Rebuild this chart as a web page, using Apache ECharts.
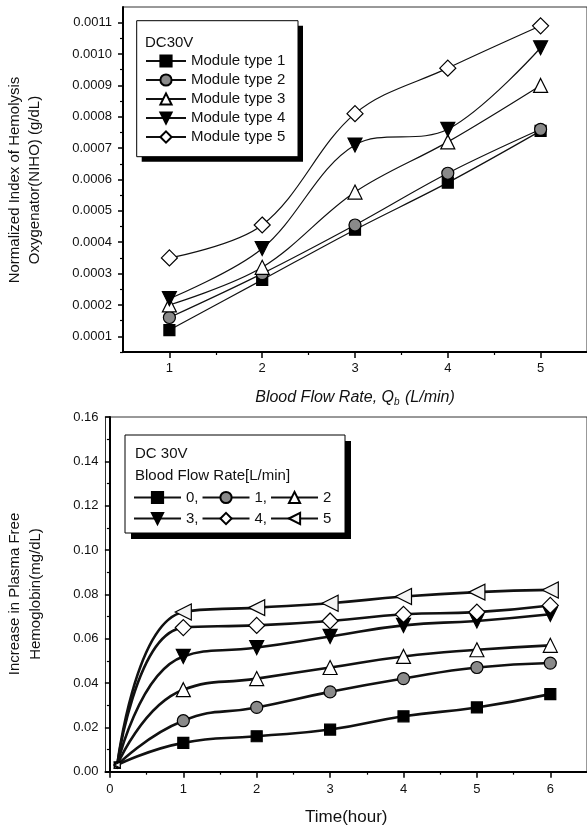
<!DOCTYPE html>
<html>
<head>
<meta charset="utf-8">
<script src="https://cdn.jsdelivr.net/npm/echarts@6/dist/echarts.min.js"></script>
<style>html,body{margin:0;padding:0;background:#fff;}#c{width:587px;height:829px;}</style>
</head>
<body>
<div id="c"></div>
<script>
// ---- Top chart data ----
const flowRates = [1, 2, 3, 4, 5];
const moduleNames = ['Module type 1', 'Module type 2', 'Module type 3', 'Module type 4', 'Module type 5'];
const mod1 = [0.00012, 0.00028, 0.00044, 0.00059, 0.000755];
const mod2 = [0.00016, 0.00030, 0.000455, 0.00062, 0.00076];
const mod3 = [0.00020, 0.00032, 0.00056, 0.00072, 0.00090];
const mod4 = [0.00022, 0.00038, 0.00071, 0.00076, 0.00102];
const mod5 = [0.00035, 0.000455, 0.00081, 0.000955, 0.00109];
const topXTicks = [1, 2, 3, 4, 5];
const topXMinor = [1.5, 2.5, 3.5, 4.5];
const topYTicks = [0.0001, 0.0002, 0.0003, 0.0004, 0.0005, 0.0006, 0.0007, 0.0008, 0.0009, 0.0010, 0.0011];
const topYMinor = [0.00005, 0.00015, 0.00025, 0.00035, 0.00045, 0.00055, 0.00065, 0.00075, 0.00085, 0.00095, 0.00105];

// ---- Bottom chart data ----
const hours = [0.1, 1, 2, 3, 4, 5, 6];
const rateNames = ['0,', '1,', '2', '3,', '4,', '5'];
const rate0 = [0.003, 0.013, 0.016, 0.019, 0.025, 0.029, 0.035];
const rate1 = [0.003, 0.023, 0.029, 0.036, 0.042, 0.047, 0.049];
const rate2 = [0.003, 0.037, 0.042, 0.047, 0.052, 0.055, 0.057];
const rate3 = [0.003, 0.052, 0.056, 0.061, 0.066, 0.068, 0.071];
const rate4 = [0.003, 0.065, 0.066, 0.068, 0.071, 0.072, 0.075];
const rate5 = [0.003, 0.072, 0.074, 0.076, 0.079, 0.081, 0.082];
const botXTicks = [0, 1, 2, 3, 4, 5, 6];
const botXMinor = [0.5, 1.5, 2.5, 3.5, 4.5, 5.5];

const FONT = 'Liberation Sans, Arial, sans-serif';
const INK = '#111';

const markers = [
  {symbol: 'rect', rot: 0, fill: '#000', size: 11},
  {symbol: 'circle', rot: 0, fill: '#8a8a8a', size: 12},
  {symbol: 'triangle', rot: 0, fill: '#fff', size: 14},
  {symbol: 'triangle', rot: 180, fill: '#000', size: 14},
  {symbol: 'diamond', rot: 0, fill: '#fff', size: 16},
  {symbol: 'triangle', rot: 90, fill: '#f4f4f4', size: 16}
];

function pairs(xs, ys, firstSmall) {
  return xs.map((x, i) => (firstSmall && i === 0) ? {value: [x, ys[i]], symbolSize: 6} : [x, ys[i]]);
}

const topSeries = [mod1, mod2, mod3, mod4, mod5].map((vals, i) => ({
  name: moduleNames[i], type: 'line', xAxisIndex: 0, yAxisIndex: 0,
  data: pairs(flowRates, vals, false), smooth: 0.35,
  symbol: markers[i].symbol, symbolRotate: markers[i].rot, symbolSize: markers[i].size,
  lineStyle: {color: INK, width: 1.2},
  itemStyle: {color: markers[i].fill, borderColor: '#000', borderWidth: 1.2},
  emphasis: {disabled: true}
}));

const botSeries = [rate0, rate1, rate2, rate3, rate4, rate5].map((vals, i) => ({
  name: rateNames[i], type: 'line', xAxisIndex: 2, yAxisIndex: 2,
  data: pairs(hours, vals, true), smooth: 0.5,
  symbol: markers[i].symbol, symbolRotate: markers[i].rot, symbolSize: markers[i].size,
  lineStyle: {color: INK, width: 2.6},
  itemStyle: {color: markers[i].fill, borderColor: '#000', borderWidth: 1.2},
  emphasis: {disabled: true}
}));

const labelStyle = {color: INK, fontFamily: FONT, fontSize: 13};

const option = {
  animation: false,
  backgroundColor: '#fff',
  grid: [
    {left: 123, top: 7, width: 465.5, height: 345, show: true, borderColor: '#333', borderWidth: 1, containLabel: false},
    {left: 105.5, top: 417, width: 482, height: 354.7, show: true, borderColor: '#333', borderWidth: 1, containLabel: false}
  ],
  xAxis: [
    {gridIndex: 0, type: 'value', min: 0.5, max: 5.5, position: 'bottom',
     axisLine: {lineStyle: {color: '#000', width: 2}},
     axisTick: {customValues: topXTicks, length: 6, lineStyle: {color: '#000', width: 1.5}},
     axisLabel: Object.assign({customValues: topXTicks, margin: 10}, labelStyle),
     splitLine: {show: false},
     name: '{a|Blood Flow Rate, Q}{s|b}{a| (L/min)}', nameLocation: 'middle', nameGap: 36,
     nameTextStyle: {rich: {
       a: {fontFamily: FONT, fontSize: 16, fontStyle: 'italic', color: INK},
       s: {fontFamily: FONT, fontSize: 10, fontStyle: 'italic', color: INK, padding: [9, 1, 0, 0]}
     }}},
    {gridIndex: 0, type: 'value', min: 0.5, max: 5.5, position: 'bottom',
     axisLine: {show: false},
     axisTick: {customValues: topXMinor, length: 3, lineStyle: {color: '#000', width: 1.2}},
     axisLabel: {show: false}, splitLine: {show: false}},
    {gridIndex: 1, type: 'value', min: -0.06, max: 6.5, position: 'bottom',
     axisLine: {lineStyle: {color: '#000', width: 2}},
     axisTick: {customValues: botXTicks, length: 6, lineStyle: {color: '#000', width: 1.5}},
     axisLabel: Object.assign({customValues: botXTicks, margin: 11}, labelStyle),
     splitLine: {show: false},
     name: 'Time(hour)', nameLocation: 'middle', nameGap: 37,
     nameTextStyle: {fontFamily: FONT, fontSize: 17, color: INK}},
    {gridIndex: 1, type: 'value', min: -0.06, max: 6.5, position: 'bottom',
     axisLine: {show: false},
     axisTick: {customValues: botXMinor, length: 3, lineStyle: {color: '#000', width: 1.2}},
     axisLabel: {show: false}, splitLine: {show: false}}
  ],
  yAxis: [
    {gridIndex: 0, type: 'value', min: 0.00005, max: 0.00115, position: 'left',
     axisLine: {show: true, lineStyle: {color: '#000', width: 2}},
     axisTick: {show: true, customValues: topYTicks, length: 5, lineStyle: {color: '#000', width: 1.5}},
     axisLabel: Object.assign({customValues: topYTicks, margin: 11, formatter: v => v.toFixed(4)}, labelStyle),
     splitLine: {show: false}},
    {gridIndex: 0, type: 'value', min: 0.00005, max: 0.00115, position: 'left', offset: 0,
     axisLine: {show: false},
     axisTick: {show: true, customValues: topYMinor, length: 3, lineStyle: {color: '#000', width: 1.2}},
     axisLabel: {show: false}, splitLine: {show: false}},
    {gridIndex: 1, type: 'value', min: 0, max: 0.16, interval: 0.02, position: 'left',
     axisLine: {show: true, lineStyle: {color: '#000', width: 2}},
     axisTick: {show: true, length: 5, lineStyle: {color: '#000', width: 1.5}},
     minorTick: {show: true, splitNumber: 2, length: 3, lineStyle: {color: '#000', width: 1.2}},
     axisLabel: Object.assign({margin: 7, formatter: v => v.toFixed(2)}, labelStyle),
     splitLine: {show: false}}
  ],
  legend: [
    {data: moduleNames, orient: 'vertical', left: 145, top: 53.5, padding: 0,
     itemWidth: 40, itemHeight: 14, itemGap: 4,
     textStyle: {fontFamily: FONT, fontSize: 15, color: INK}, selectedMode: false},
    {data: rateNames.slice(0, 3), orient: 'horizontal', left: 133, top: 490, padding: 0,
     itemWidth: 47, itemHeight: 14, itemGap: 3,
     textStyle: {fontFamily: FONT, fontSize: 15, color: INK}, selectedMode: false},
    {data: rateNames.slice(3), orient: 'horizontal', left: 133, top: 511, padding: 0,
     itemWidth: 47, itemHeight: 14, itemGap: 3,
     textStyle: {fontFamily: FONT, fontSize: 15, color: INK}, selectedMode: false}
  ],
  graphic: [
    {type: 'rect', z: 3, shape: {x: 141.7, y: 25.7, width: 161.3, height: 136}, style: {fill: '#000'}},
    {type: 'rect', z: 3, shape: {x: 136.7, y: 20.7, width: 161.3, height: 136}, style: {fill: '#fff', stroke: '#000', lineWidth: 1}},
    {type: 'text', z: 5, x: 145, y: 42.7, style: {text: 'DC30V', font: '15px ' + FONT, fill: INK, textAlign: 'left', textVerticalAlign: 'middle'}},
    {type: 'rect', z: 3, shape: {x: 131, y: 441, width: 220, height: 98}, style: {fill: '#000'}},
    {type: 'rect', z: 3, shape: {x: 125, y: 435, width: 220, height: 98}, style: {fill: '#fff', stroke: '#000', lineWidth: 1}},
    {type: 'text', z: 5, x: 135, y: 453.5, style: {text: 'DC 30V', font: '15px ' + FONT, fill: INK, textAlign: 'left', textVerticalAlign: 'middle'}},
    {type: 'text', z: 5, x: 135, y: 476, style: {text: 'Blood Flow Rate[L/min]', font: '15px ' + FONT, fill: INK, textAlign: 'left', textVerticalAlign: 'middle'}},
    {type: 'text', z: 5, x: 15, y: 180, rotation: Math.PI / 2, style: {text: 'Normalized Index of Hemolysis', font: '15px ' + FONT, fill: INK, textAlign: 'center', textVerticalAlign: 'middle'}},
    {type: 'text', z: 5, x: 35, y: 180, rotation: Math.PI / 2, style: {text: 'Oxygenator(NIHO) (g/dL)', font: '15px ' + FONT, fill: INK, textAlign: 'center', textVerticalAlign: 'middle'}},
    {type: 'text', z: 5, x: 15, y: 594, rotation: Math.PI / 2, style: {text: 'Increase in Plasma Free', font: '15px ' + FONT, fill: INK, textAlign: 'center', textVerticalAlign: 'middle'}},
    {type: 'text', z: 5, x: 36, y: 594, rotation: Math.PI / 2, style: {text: 'Hemoglobin(mg/dL)', font: '15px ' + FONT, fill: INK, textAlign: 'center', textVerticalAlign: 'middle'}}
  ],
  series: topSeries.concat(botSeries)
};

const chart = echarts.init(document.getElementById('c'), null, {renderer: 'canvas'});
chart.setOption(option);
</script>
</body>
</html>
